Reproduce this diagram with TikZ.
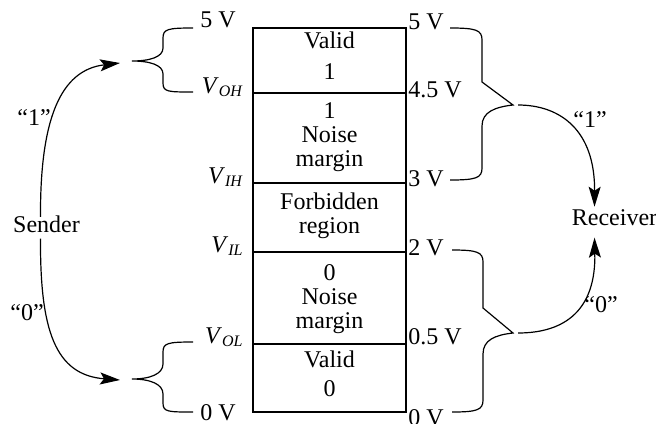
\documentclass[tikz,border=0pt]{standalone}
\usepackage{fontspec}
\setmainfont{Liberation Serif}
\usetikzlibrary{arrows.meta,calc}
\newcommand{\vlev}[1]{\textit{V}\textsubscript{\textit{#1}}}

\begin{document}
\begin{tikzpicture}[x=0.5pt, y=-0.5pt, >={Stealth[length=10pt,width=6pt,inset=2pt]},
  font=\fontsize{12}{12}\selectfont,
  cell/.style={align=center, inner sep=0pt},
  lvl/.style={inner sep=0pt},
  brc/.style={line width=0.6pt},
  sig/.style={->, line width=0.6pt}]
  \useasboundingbox (0,0) rectangle (656,423);
  % level table
  \draw[line width=0.75pt] (253,28) rectangle (406,412);
  \foreach \y in {93,183,252,344} \draw[line width=0.75pt] (253,\y) -- (406,\y);
  \node[cell] (valid1) at (329.5,55.3) {Valid\\[3.5pt]1};
  \node[cell] (nm1) at (329.5,137.5) {1\\Noise\\margin};
  \node[cell] (forb) at (329.5,215.9) {Forbidden\\region};
  \node[cell] (nm0) at (329.5,299) {0\\Noise\\margin};
  \node[cell] (valid0) at (329.5,373.3) {Valid\\[2.5pt]0};
  % sender levels
  \foreach \n/\t/\x/\y in {s5/{5 V}/236/27, soh/{\vlev{OH}}/244/93, sih/{\vlev{IH}}/244/183,
      sil/{\vlev{IL}}/244/252, sol/{\vlev{OL}}/244/343, s0/{0 V}/236/420}
    \node[lvl, anchor=base east] (\n) at (\x,\y) {\t};
  % receiver levels
  \foreach \n/\t/\y in {r5/5 V/29, r45/4.5 V/97, r3/3 V/186, r2/2 V/255, r05/0.5 V/344, r0/0 V/425}
    \node[lvl, anchor=base west] (\n) at (408,\y) {\t};
  % braces
  \draw[brc] (193,28) .. controls (168,28) and (163,29) .. (163,38) -- (163,48)
    .. controls (163,57) and (150,61) .. (132,61)
    .. controls (150,61) and (163,65) .. (163,74) -- (163,83)
    .. controls (163,92) and (168,92) .. (193,92);
  \draw[brc] (193,342) .. controls (168,342) and (163,343) .. (163,352) -- (163,364)
    .. controls (163,374) and (150,379) .. (132,379)
    .. controls (150,379) and (163,384) .. (163,394) -- (163,403)
    .. controls (163,412) and (168,412) .. (193,412);
  \draw[brc] (450,28) .. controls (476,28) and (482,30) .. (482,40) -- (482,82)
    -- (513,105)
    .. controls (495,107) and (482,112) .. (482,126) -- (482,168)
    .. controls (482,178) and (476,180) .. (450,180);
  \draw[brc] (452,250) .. controls (477,250) and (483,252) .. (483,262) -- (483,308)
    -- (513,333)
    .. controls (495,335) and (483,340) .. (483,354) -- (483,400)
    .. controls (483,410) and (477,412) .. (452,412);
  % arrow ends at the brace tips
  \coordinate (snd1) at (120,63);
  \coordinate (snd0) at (120,380);
  \coordinate (rcv1) at (518,105);
  \coordinate (rcv0) at (518,333);
  % sender and receiver
  \node[lvl, anchor=base] (sender) at (46.5,232) {Sender};
  \node[lvl, anchor=base] (receiver) at (614.5,225) {Receiver};
  \draw[sig] ([xshift=-3pt,yshift=-1pt]sender.north) .. controls (40,120) and (60,70) .. (snd1);
  \draw[sig] ([xshift=-3pt,yshift=-3pt]sender.south) .. controls (40,330) and (55,375) .. (snd0);
  \draw[sig] (rcv1) .. controls (560,105) and (595,130) .. ([xshift=-10pt,yshift=1pt]receiver.north);
  \draw[sig] (rcv0) .. controls (565,333) and (596,310) .. ([xshift=-10pt,yshift=-6pt]receiver.south);
  % bit labels
  \node (one1) at (34,118) {``1''};
  \node (zero1) at (27,313) {``0''};
  \node (one2) at (590,120) {``1''};
  \node (zero2) at (601,305) {``0''};
\end{tikzpicture}
\end{document}
